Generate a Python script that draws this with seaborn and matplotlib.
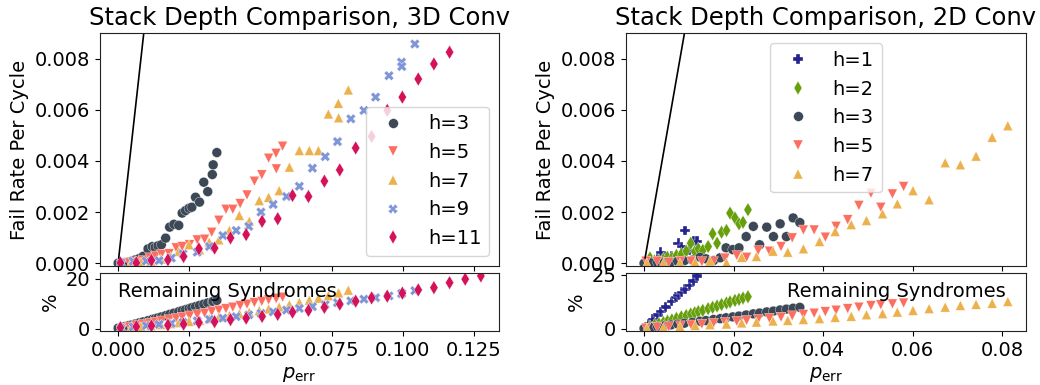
import matplotlib
matplotlib.use("Agg")
import matplotlib.pyplot as plt
import numpy as np
import pandas as pd
import seaborn as sns

# ---------------- data: 3D conv (left) ----------------
x3_3d = [0.0000, 0.0012, 0.0024, 0.0036, 0.0048, 0.0061, 0.0074, 0.0088, 0.0105, 0.0120, 0.0130, 0.0140, 0.0152, 0.0167,
         0.0181, 0.0196, 0.0213, 0.0225, 0.0237, 0.0249, 0.0259, 0.0272, 0.0286, 0.0301, 0.0315, 0.0331, 0.0334, 0.0347]
rate3_3d = [0.00000, 0.00001, 0.00002, 0.00004, 0.00008, 0.00013, 0.00018, 0.00027, 0.00056, 0.00065, 0.00062, 0.00068,
            0.00072, 0.00098, 0.00141, 0.00152, 0.00148, 0.00196, 0.00206, 0.00215, 0.00219, 0.00258, 0.00239, 0.00317,
            0.00280, 0.00347, 0.00385, 0.00433]
pct3_3d = [0.3, 0.6, 0.9, 1.3, 1.6, 2.0, 2.4, 2.8, 3.3, 3.8, 4.1, 4.4, 4.8, 5.3, 5.8, 6.3, 6.9, 7.3, 7.7, 8.1, 8.5, 8.9,
           9.4, 9.9, 10.4, 10.9, 11.0, 11.4]

x5_3d = [0.0015, 0.0040, 0.0064, 0.0088, 0.0111, 0.0131, 0.0152, 0.0179, 0.0204, 0.0225, 0.0251, 0.0278, 0.0304, 0.0329,
         0.0354, 0.0379, 0.0403, 0.0429, 0.0453, 0.0479, 0.0505, 0.0529, 0.0555, 0.0556, 0.0578]
rate5_3d = [0.00001, 0.00001, 0.00005, 0.00010, 0.00021, 0.00028, 0.00034, 0.00037, 0.00060, 0.00065, 0.00072, 0.00091,
            0.00094, 0.00121, 0.00168, 0.00211, 0.00211, 0.00233, 0.00267, 0.00321, 0.00346, 0.00411, 0.00430, 0.00369,
            0.00458]
pct5_3d = [0.3, 0.8, 1.3, 1.8, 2.3, 2.7, 3.2, 3.7, 4.2, 4.7, 5.2, 5.7, 6.3, 6.9, 7.5, 8.1, 8.7, 9.3, 9.9, 10.5, 11.0,
           11.6, 12.1, 12.2, 12.7]

x7_3d = [0.0010, 0.0045, 0.0080, 0.0115, 0.0150, 0.0185, 0.0213, 0.0249, 0.0286, 0.0320, 0.0354, 0.0391, 0.0426, 0.0461,
         0.0496, 0.0529, 0.0566, 0.0602, 0.0637, 0.0672, 0.0704, 0.0739, 0.0774, 0.0775, 0.0809]
rate7_3d = [0.00001, 0.00002, 0.00004, 0.00008, 0.00016, 0.00025, 0.00046, 0.00072, 0.00053, 0.00082, 0.00091, 0.00128,
            0.00187, 0.00164, 0.00245, 0.00258, 0.00284, 0.00376, 0.00441, 0.00441, 0.00441, 0.00584, 0.00626, 0.00569,
            0.00678]
pct7_3d = [0.2, 0.5, 0.9, 1.3, 1.7, 2.1, 2.5, 3.0, 3.5, 4.1, 4.7, 5.4, 6.1, 6.7, 7.4, 8.0, 8.8, 9.7, 10.6, 11.5, 12.3,
           13.3, 14.3, 14.4, 15.5]

x9_3d = [0.0010, 0.0053, 0.0099, 0.0144, 0.0187, 0.0228, 0.0278, 0.0321, 0.0368, 0.0415, 0.0459, 0.0502, 0.0545, 0.0592,
         0.0637, 0.0683, 0.0728, 0.0771, 0.0818, 0.0864, 0.0905, 0.0952, 0.0996, 0.0997, 0.1043]
rate9_3d = [0.00001, 0.00007, 0.00008, 0.00010, 0.00020, 0.00036, 0.00043, 0.00065, 0.00108, 0.00128, 0.00144, 0.00200,
            0.00230, 0.00261, 0.00301, 0.00372, 0.00417, 0.00476, 0.00565, 0.00598, 0.00650, 0.00734, 0.00787, 0.00770,
            0.00858]
pct9_3d = [0.2, 0.8, 1.3, 1.8, 2.2, 2.6, 3.2, 3.8, 4.3, 4.9, 5.6, 6.2, 6.8, 7.5, 8.2, 8.9, 9.7, 10.5, 11.2, 11.9, 12.5,
           13.2, 14.1, 14.2, 15.3]

x11_3d = [0.0008, 0.0064, 0.0117, 0.0175, 0.0230, 0.0284, 0.0339, 0.0395, 0.0450, 0.0506, 0.0561, 0.0613, 0.0669,
          0.0725, 0.0779, 0.0835, 0.0891, 0.0946, 0.0999, 0.1055, 0.1110, 0.1165, 0.1220, 0.1275]
rate11_3d = [0.00001, 0.00001, 0.00011, 0.00013, 0.00026, 0.00056, 0.00059, 0.00099, 0.00112, 0.00164, 0.00174, 0.00265,
             0.00261, 0.00321, 0.00365, 0.00451, 0.00496, 0.00598, 0.00650, 0.00721, 0.00780, 0.00826, 0.00930, 0.01010]
pct11_3d = [0.5, 0.9, 1.2, 1.5, 1.9, 2.5, 2.9, 3.7, 4.3, 5.0, 5.8, 6.7, 7.4, 8.6, 9.9, 11.1, 12.4, 13.1, 14.3, 15.6,
            16.5, 18.5, 19.9, 21.2]

# ---------------- data: 2D conv (right) ----------------
x1_2d = [0.0000, 0.0010, 0.0020, 0.0030, 0.0037, 0.0048, 0.0061, 0.0071, 0.0076, 0.0084, 0.0091, 0.0101, 0.0110, 0.0118]
rate1_2d = [0.00000, 0.00002, 0.00005, 0.00015, 0.00043, 0.00023, 0.00030, 0.00023, 0.00078, 0.00065, 0.00128, 0.00050,
            0.00086, 0.00086]
pct1_2d = [0.3, 2.3, 4.4, 6.4, 7.9, 10.1, 12.6, 14.5, 15.4, 16.9, 18.2, 20.1, 22.0, 24.4]

x2_2d = [0.0003, 0.0013, 0.0023, 0.0033, 0.0043, 0.0052, 0.0062, 0.0072, 0.0083, 0.0094, 0.0104, 0.0113, 0.0121, 0.0131,
         0.0143, 0.0153, 0.0163, 0.0173, 0.0184, 0.0192, 0.0203, 0.0212, 0.0221, 0.0232]
rate2_2d = [0.00001, 0.00020, 0.00008, 0.00010, 0.00015, 0.00023, 0.00020, 0.00030, 0.00035, 0.00047, 0.00078, 0.00045,
            0.00056, 0.00050, 0.00065, 0.00115, 0.00078, 0.00121, 0.00128, 0.00196, 0.00177, 0.00154, 0.00160, 0.00209]
pct2_2d = [0.3, 1.0, 1.6, 2.3, 2.9, 3.5, 4.1, 4.8, 5.5, 6.1, 6.8, 7.4, 7.9, 8.5, 9.3, 9.9, 10.5, 11.2, 11.9, 12.4, 13.1,
           13.6, 14.2, 14.8]

x3_2d = [0.0000, 0.0015, 0.0030, 0.0045, 0.0060, 0.0075, 0.0090, 0.0108, 0.0125, 0.0138, 0.0155, 0.0170, 0.0183, 0.0198,
         0.0212, 0.0228, 0.0244, 0.0258, 0.0274, 0.0289, 0.0304, 0.0318, 0.0333, 0.0348]
rate3_2d = [0.00000, 0.00001, 0.00002, 0.00003, 0.00005, 0.00007, 0.00010, 0.00012, 0.00023, 0.00017, 0.00010, 0.00021,
            0.00060, 0.00053, 0.00060, 0.00104, 0.00144, 0.00072, 0.00141, 0.00104, 0.00154, 0.00104, 0.00177, 0.00159]
pct3_2d = [0.2, 0.6, 1.0, 1.4, 1.8, 2.2, 2.6, 3.0, 3.5, 3.8, 4.3, 4.7, 5.1, 5.5, 5.9, 6.4, 6.9, 7.3, 7.8, 8.2, 8.7, 9.1,
           9.5, 9.9]

x5_2d = [0.0004, 0.0029, 0.0055, 0.0081, 0.0105, 0.0129, 0.0155, 0.0181, 0.0207, 0.0229, 0.0255, 0.0280, 0.0306, 0.0331,
         0.0356, 0.0380, 0.0405, 0.0429, 0.0455, 0.0480, 0.0507, 0.0529, 0.0555, 0.0580]
rate5_2d = [0.00008, 0.00008, 0.00004, 0.00008, 0.00008, 0.00006, 0.00006, 0.00020, 0.00030, 0.00023, 0.00050, 0.00047,
            0.00065, 0.00099, 0.00130, 0.00130, 0.00102, 0.00144, 0.00170, 0.00226, 0.00274, 0.00219, 0.00271, 0.00300]
pct5_2d = [0.3, 0.7, 1.0, 1.4, 1.8, 2.2, 2.6, 3.0, 3.5, 3.9, 4.4, 4.9, 5.4, 6.0, 6.6, 7.2, 7.9, 8.6, 9.3, 10.0, 10.7,
           11.1, 11.5, 11.9]

x7_2d = [0.0006, 0.0043, 0.0080, 0.0114, 0.0147, 0.0184, 0.0218, 0.0251, 0.0288, 0.0321, 0.0356, 0.0392, 0.0427, 0.0463,
         0.0497, 0.0533, 0.0566, 0.0601, 0.0637, 0.0673, 0.0707, 0.0742, 0.0778, 0.0813]
rate7_2d = [0.00001, 0.00001, 0.00001, 0.00004, 0.00008, 0.00001, 0.00023, 0.00026, 0.00047, 0.00043, 0.00056, 0.00085,
            0.00124, 0.00151, 0.00167, 0.00193, 0.00232, 0.00284, 0.00248, 0.00393, 0.00385, 0.00419, 0.00493, 0.00538]
pct7_2d = [0.3, 0.6, 1.1, 1.6, 1.9, 2.2, 2.7, 3.1, 3.6, 3.9, 4.3, 4.7, 5.3, 5.8, 6.5, 7.0, 7.7, 8.5, 9.3, 10.0, 10.8,
           11.3, 11.8, 12.6]

# reference line (fail rate = p_err)
line_p = [0.0002, 0.0100]

labels_3d = ["h=3", "h=5", "h=7", "h=9", "h=11"]
labels_2d = ["h=1", "h=2", "h=3", "h=5", "h=7"]

colors = {"h=1": "#24248f", "h=2": "#67a00c", "h=3": "#3c4856", "h=5": "#fc6e60",
          "h=7": "#ecb14c", "h=9": "#7e95d8", "h=11": "#d3125a"}
markers = {"h=1": "P", "h=2": "d", "h=3": "o", "h=5": "v", "h=7": "^", "h=9": "X", "h=11": "d"}


def frame(series):
    parts = []
    for lab, xs, rs, ps in series:
        parts.append(pd.DataFrame({"p": xs, "rate": rs, "pct": ps, "h": lab}))
    return pd.concat(parts, ignore_index=True)


df3d = frame([("h=3", x3_3d, rate3_3d, pct3_3d), ("h=5", x5_3d, rate5_3d, pct5_3d),
              ("h=7", x7_3d, rate7_3d, pct7_3d), ("h=9", x9_3d, rate9_3d, pct9_3d),
              ("h=11", x11_3d, rate11_3d, pct11_3d)])
df2d = frame([("h=1", x1_2d, rate1_2d, pct1_2d), ("h=2", x2_2d, rate2_2d, pct2_2d),
              ("h=3", x3_2d, rate3_2d, pct3_2d), ("h=5", x5_2d, rate5_2d, pct5_2d),
              ("h=7", x7_2d, rate7_2d, pct7_2d)])

sns.set_style("ticks")
plt.rcParams.update({
    "font.family": ["DejaVu Sans"],
    "font.size": 14,
    "axes.titlesize": 17.5,
    "text.color": "black",
    "axes.labelcolor": "black",
    "xtick.color": "black",
    "ytick.color": "black",
    "axes.edgecolor": "#222222",
})

fig = plt.figure(figsize=(10.4, 3.85), dpi=100)

W, H = 1040.0, 385.0


def rect(x0, x1, y0, y1):
    return [x0 / W, 1 - y1 / H, (x1 - x0) / W, (y1 - y0) / H]


MS = 50
EW = 0.25


def panel(x0, x1, df, order, title, leg_loc, pct_ticks, text_right):
    axb = fig.add_axes(rect(x0, x1, 273.3, 331.0))
    axt = fig.add_axes(rect(x0, x1, 33.3, 265.7), sharex=axb)
    pal = [colors[k] for k in order]
    mk = [markers[k] for k in order]
    sns.scatterplot(data=df, x="p", y="rate", hue="h", style="h", hue_order=order, style_order=order,
                    palette=pal, markers=mk, s=MS, linewidth=EW, edgecolor="white", ax=axt)
    sns.lineplot(x=line_p, y=line_p, color="black", linewidth=1.2, ax=axt)
    sns.scatterplot(data=df, x="p", y="pct", hue="h", style="h", hue_order=order, style_order=order,
                    palette=pal, markers=mk, s=MS, linewidth=EW, edgecolor="white", ax=axb, legend=False)
    axt.set_ylim(-0.0001, 0.009)
    axt.set_yticks([0.0, 0.002, 0.004, 0.006, 0.008])
    axt.set_yticklabels(["0.000", "0.002", "0.004", "0.006", "0.008"])
    axt.tick_params(labelbottom=False)
    axt.set_xlabel("")
    axt.set_ylabel("Fail Rate Per Cycle")
    axt.set_title(title)
    sns.move_legend(axt, leg_loc, title=None)
    axb.set_yticks(pct_ticks)
    axb.set_ylabel("%")
    axb.set_xlabel(r"$p_{\mathrm{err}}$")
    if text_right:
        axb.text(0.95, 0.59, "Remaining Syndromes", transform=axb.transAxes, ha="right", va="baseline")
    else:
        axb.text(0.046, 0.59, "Remaining Syndromes", transform=axb.transAxes, ha="left", va="baseline")
    return axt, axb


panel(100, 499, df3d, labels_3d, "Stack Depth Comparison, 3D Conv", "lower right", [0, 20], False)
ax2t, ax2b = panel(626, 1026, df2d, labels_2d, "Stack Depth Comparison, 2D Conv", "upper center", [0, 25], True)
ax2b.set_xticks([0.0, 0.02, 0.04, 0.06, 0.08])

fig.savefig("out.png", dpi=100)
